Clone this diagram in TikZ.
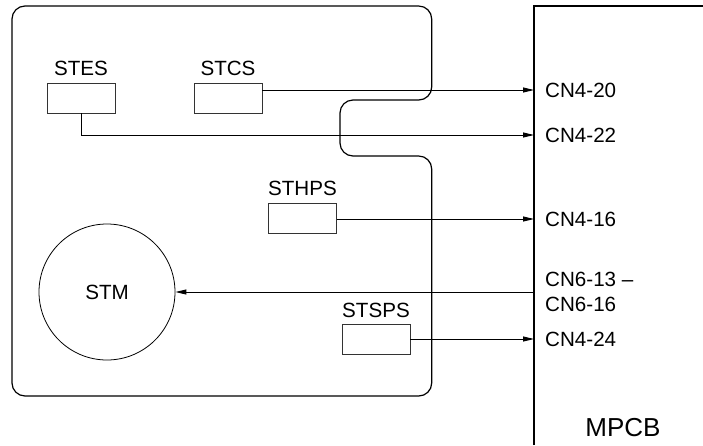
\documentclass[tikz,border=0pt]{standalone}
\usepackage{fontspec}
\setmainfont{Liberation Sans}
\usetikzlibrary{arrows.meta}
\begin{document}
\begin{tikzpicture}[x=1pt,y=-1pt,
  font=\fontsize{20.6}{25}\selectfont,
  sbox/.style={draw=black!80,line width=0.9pt,minimum width=68pt,minimum height=30pt,inner sep=0pt},
  lbl/.style={inner sep=0pt},
  cn/.style={anchor=west,inner xsep=11pt,inner ysep=0pt,align=left},
  arr/.style={line width=0.9pt,-{Triangle[length=11pt,width=5pt]}},
  frame/.style={line width=1.2pt}]
\useasboundingbox (0,0) rectangle (703,445);
% left unit outline with jog
\draw[frame,rounded corners=13pt] (12,6) -- (431.7,6) -- (431.7,100) -- (340,100) -- (340,156) -- (431.7,156) -- (431.7,396) -- (12,396) -- cycle;
% MPCB board
\draw[frame] (534,445) -- (534,6) -- (703,6);
\node[lbl,font=\fontsize{26}{30}\selectfont] (mpcb) at (623,428) {MPCB};
% sensors
\node[sbox] (stes) at (81,98) {};
\node[lbl] (stesl) at (81,68) {STES};
\node[sbox] (stcs) at (228,98) {};
\node[lbl] (stcsl) at (228,68) {STCS};
\node[sbox] (sthps) at (302.5,218) {};
\node[lbl] (sthpsl) at (302.5,188) {STHPS};
\node[sbox] (stsps) at (376,339) {};
\node[lbl] (stspsl) at (376,310) {STSPS};
\node[circle,draw,line width=0.8pt,minimum size=136pt,inner sep=0pt] (stm) at (107,292) {STM};
% connector labels
\node[cn] (c420) at (534,90) {CN4-20};
\node[cn] (c422) at (534,135) {CN4-22};
\node[cn] (c416) at (534,219) {CN4-16};
\node[cn] (c613) at (534,292) {CN6-13 –\\CN6-16};
\node[cn] (c424) at (534,339) {CN4-24};
% connectors
\draw[arr] (stcs.east |- c420.west) -- (c420.west);
\draw[arr] (stes.south) |- (c422.west);
\draw[arr] (sthps.east |- c416.west) -- (c416.west);
\draw[arr] (c613.west) -- (stm.east);
\draw[arr] (stsps.east |- c424.west) -- (c424.west);
\end{tikzpicture}
\end{document}
